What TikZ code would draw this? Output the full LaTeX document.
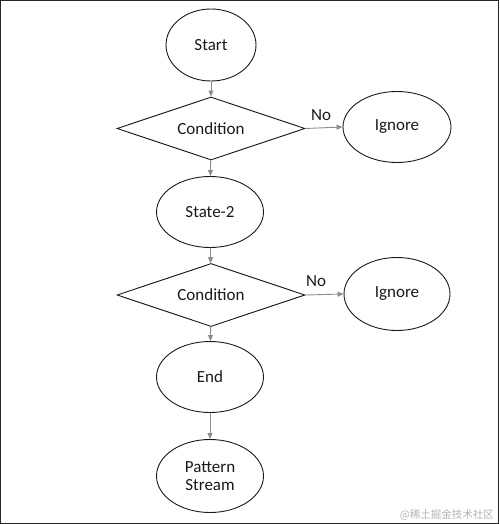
\documentclass[tikz,border=0pt]{standalone}
\usepackage{fontspec}
\setmainfont{Carlito}
\newfontfamily\cjkfont{Noto Sans CJK SC}
\usetikzlibrary{shapes.geometric,arrows.meta}
\begin{document}
\begin{tikzpicture}[x=1pt,y=-1pt,
  every node/.style={font=\fontsize{17}{20}\selectfont, text=black!90},
  oval/.style={ellipse, draw=black!90, line width=0.9pt, inner sep=0pt},
  cond/.style={diamond, draw=black!90, line width=0.9pt, inner sep=0pt, aspect=2.98, minimum width=188pt, minimum height=63pt},
  flow/.style={draw=black!45, line width=0.9pt, -{Triangle[length=6pt,width=5pt]}},
  lbl/.style={inner sep=0pt}
]
\useasboundingbox (0,0) rectangle (499,524);
\draw[line width=1.2pt, black!85] (0.6,0.6) rectangle (498.4,523.4);

\node[oval, minimum width=90pt, minimum height=72pt] (start) at (211,45) {Start};
\node[cond] (c1) at (211,128.5) {Condition};
\node[oval, minimum width=108pt, minimum height=71pt] (ig1) at (397,127) {Ignore};
\node[oval, minimum width=107pt, minimum height=71pt] (s2) at (210,212) {State-2};
\node[cond] (c2) at (211,295) {Condition};
\node[oval, minimum width=106pt, minimum height=73pt] (ig2) at (397,294) {Ignore};
\node[oval, minimum width=107pt, minimum height=71pt] (end) at (210,377) {End};
\node[oval, minimum width=107pt, minimum height=73pt, align=center] (ps) at (210,476) {Pattern\\[-2pt]Stream};

\draw[flow] (start) -- (c1);
\draw[flow] (c1) -- (s2);
\draw[flow] (s2) -- (c2);
\draw[flow] (c2) -- (end);
\draw[flow] (end) -- (ps);
\draw[flow] (c1.east) -- (ig1.west);
\draw[flow] (c2.east) -- (ig2.west);

\node[lbl] (no1) at (321,115) {No};
\node[lbl] (no2) at (316,281) {No};

\node[anchor=south east, inner sep=0pt, font=\cjkfont\fontsize{10.5}{12}\selectfont, text=black!30] (wm) at (494,521) {@稀土掘金技术社区};
\end{tikzpicture}
\end{document}
